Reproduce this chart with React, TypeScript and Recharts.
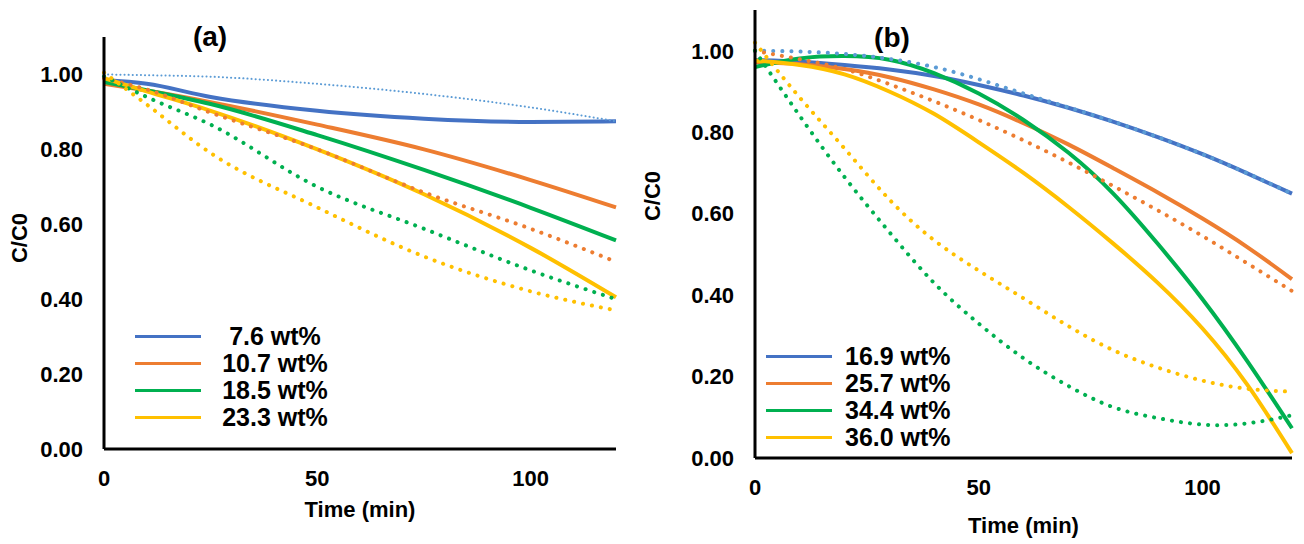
import { LineChart, Line, XAxis, YAxis, Legend } from "recharts";

const FONT = '"Liberation Sans", Arial, sans-serif';

// colours of the four loadings (solid = data, dotted = fit)
const SOLID_COLORS = ["#4472C4", "#ED7D31", "#00B050", "#FFC000"];
const DOTTED_COLORS = ["#5B9BD5", "#ED7D31", "#00B050", "#FFC000"];

const Y_TICKS = [0, 0.2, 0.4, 0.6, 0.8, 1.0];
const X_TICKS = [0, 50, 100];

// panel (a)
const NAMES_A = ["7.6 wt%", "10.7 wt%", "18.5 wt%", "23.3 wt%"];
const TIME_A = [0, 10, 25, 50, 75, 100, 120];
const A_SOLID_1 = [0.985, 0.975, 0.94, 0.903, 0.882, 0.873, 0.875];
const A_SOLID_2 = [0.975, 0.957, 0.926, 0.866, 0.8, 0.718, 0.645];
const A_SOLID_3 = [0.98, 0.958, 0.921, 0.838, 0.745, 0.644, 0.557];
const A_SOLID_4 = [0.99, 0.955, 0.903, 0.8, 0.68, 0.537, 0.405];
const A_DOT_1 = [1.0, 0.998, 0.994, 0.975, 0.948, 0.912, 0.875];
const A_DOT_2 = [0.99, 0.96, 0.898, 0.8, 0.685, 0.588, 0.5];
const A_DOT_3 = [0.995, 0.94, 0.866, 0.7, 0.588, 0.477, 0.4];
const A_DOT_4 = [1.005, 0.92, 0.79, 0.645, 0.514, 0.421, 0.37];

// panel (b)
const NAMES_B = ["16.9 wt%", "25.7 wt%", "34.4 wt%", "36.0 wt%"];
const TIME_B = [0, 10, 20, 30, 40, 50, 60, 70, 80, 90, 100, 110, 120];
const B_SOLID_1 = [0.977, 0.973, 0.965, 0.954, 0.938, 0.916, 0.89, 0.86, 0.826, 0.788, 0.746, 0.699, 0.649];
const B_SOLID_2 = [0.972, 0.967, 0.955, 0.935, 0.905, 0.868, 0.822, 0.77, 0.712, 0.652, 0.588, 0.518, 0.439];
const B_SOLID_3 = [0.96, 0.981, 0.987, 0.978, 0.945, 0.895, 0.83, 0.75, 0.65, 0.526, 0.39, 0.238, 0.073];
const B_SOLID_4 = [0.976, 0.965, 0.942, 0.9, 0.845, 0.775, 0.7, 0.617, 0.527, 0.43, 0.318, 0.18, 0.012];
const B_DOT_1 = [1.0, 0.998, 0.992, 0.98, 0.96, 0.93, 0.895, 0.861, 0.826, 0.788, 0.746, 0.699, 0.649];
const B_DOT_2 = [1.0, 0.979, 0.955, 0.918, 0.876, 0.83, 0.78, 0.726, 0.668, 0.608, 0.545, 0.478, 0.41];
const B_DOT_3 = [1.0, 0.84, 0.69, 0.555, 0.43, 0.33, 0.245, 0.177, 0.125, 0.098, 0.082, 0.085, 0.105];
const B_DOT_4 = [1.02, 0.885, 0.76, 0.635, 0.535, 0.46, 0.392, 0.324, 0.265, 0.222, 0.19, 0.17, 0.163];

const toRows = (times: number[], vals: number[]) =>
  times.map((t, i) => ({ t, v: vals[i] }));

const tickStyle = { fill: "#000", fontSize: 22, fontWeight: 700, fontFamily: FONT };
const axisStyle = { stroke: "#000", strokeWidth: 3 };

function LegendBox({ names, centered }: { names: string[]; centered: boolean }) {
  return (
    <div style={{ fontFamily: FONT, fontWeight: 700, fontSize: 25, color: "#000" }}>
      {names.map((n, i) => (
        <div key={n} style={{ display: "flex", alignItems: "center", height: 27 }}>
          <span style={{ display: "inline-block", width: 66, height: 3, background: SOLID_COLORS[i] }} />
          <span
            style={{
              marginLeft: centered ? 14 : 13,
              width: centered ? 120 : "auto",
              textAlign: centered ? "center" : "left",
              whiteSpace: "nowrap",
              lineHeight: "27px",
            }}
          >
            {n}
          </span>
        </div>
      ))}
    </div>
  );
}

type PanelProps = {
  width: number;
  top: number;
  right: number;
  yAxisWidth: number;
  xAxisHeight: number;
  times: number[];
  solid: number[][];
  dotted: number[][];
  curve: "monotone" | "natural";
  names: string[];
  centered: boolean;
  legendLeft: number;
  legendTop: number;
  yLabelX: number;
  yLabelY: number;
  xLabelBaseline: number;
  thinFirstDotted: boolean;
};

function Panel(p: PanelProps) {
  const midX = p.yAxisWidth + (p.width - p.right - p.yAxisWidth) / 2;
  return (
    <LineChart
      width={p.width}
      height={544}
      margin={{ top: p.top, right: p.right, bottom: 0, left: 0 }}
    >
      <XAxis
        dataKey="t"
        type="number"
        domain={[0, 120]}
        ticks={X_TICKS}
        height={p.xAxisHeight}
        axisLine={axisStyle}
        tickLine={false}
        tickSize={0}
        tickMargin={21}
        tick={tickStyle}
        allowDuplicatedCategory={false}
        label={() => (
          <text x={midX} y={p.xLabelBaseline} textAnchor="middle" fontFamily={FONT} fontSize={22} fontWeight={700} fill="#000">
            Time (min)
          </text>
        )}
      />
      <YAxis
        type="number"
        domain={[0, 1.1]}
        ticks={Y_TICKS}
        width={p.yAxisWidth}
        tickFormatter={(v: number) => v.toFixed(2)}
        axisLine={axisStyle}
        tickLine={false}
        tickSize={0}
        tickMargin={21}
        tick={tickStyle}
        label={() => (
          <text
            x={p.yLabelX}
            y={p.yLabelY}
            transform={`rotate(-90 ${p.yLabelX} ${p.yLabelY})`}
            textAnchor="middle"
            dominantBaseline="central"
            fontFamily={FONT}
            fontSize={22}
            fontWeight={700}
            fill="#000"
          >
            C/C0
          </text>
        )}
      />
      {p.solid.map((vals, i) => (
        <Line
          key={"s" + i}
          data={toRows(p.times, vals)}
          dataKey="v"
          type={p.curve}
          stroke={SOLID_COLORS[i]}
          strokeWidth={4}
          dot={false}
          activeDot={false}
          legendType="none"
          isAnimationActive={false}
        />
      ))}
      {p.dotted.map((vals, i) => {
        const thin = p.thinFirstDotted && i === 0;
        return (
          <Line
            key={"d" + i}
            data={toRows(p.times, vals)}
            dataKey="v"
            type={p.curve}
            stroke={DOTTED_COLORS[i]}
            strokeWidth={thin ? 2 : 4}
            strokeDasharray={thin ? "0.1 4" : "0.1 9"}
            strokeLinecap="round"
            dot={false}
            activeDot={false}
            legendType="none"
            isAnimationActive={false}
          />
        );
      })}
      <Legend
        layout="vertical"
        align="center"
        verticalAlign="middle"
        wrapperStyle={{ left: p.legendLeft, top: p.legendTop, width: "auto" }}
        content={() => <LegendBox names={p.names} centered={p.centered} />}
      />
    </LineChart>
  );
}

const titleStyle = {
  position: "absolute" as const,
  transform: "translate(-50%, -50%)",
  fontFamily: FONT,
  fontWeight: 700,
  fontSize: 28,
  lineHeight: "28px",
  color: "#000",
};

export default function App() {
  return (
    <div style={{ position: "absolute", left: 0, top: 0, width: 1304, height: 544, background: "#fff" }}>
      <div style={{ position: "absolute", left: 0, top: 0 }}>
        <Panel
          width={640}
          top={37}
          right={24}
          yAxisWidth={104}
          xAxisHeight={95}
          times={TIME_A}
          solid={[A_SOLID_1, A_SOLID_2, A_SOLID_3, A_SOLID_4]}
          dotted={[A_DOT_1, A_DOT_2, A_DOT_3, A_DOT_4]}
          curve="monotone"
          names={NAMES_A}
          centered={true}
          legendLeft={135}
          legendTop={323}
          yLabelX={19}
          yLabelY={238}
          xLabelBaseline={517}
          thinFirstDotted={true}
        />
      </div>
      <div style={{ position: "absolute", left: 640, top: 0 }}>
        <Panel
          width={664}
          top={10}
          right={12}
          yAxisWidth={115}
          xAxisHeight={86}
          times={TIME_B}
          solid={[B_SOLID_1, B_SOLID_2, B_SOLID_3, B_SOLID_4]}
          dotted={[B_DOT_1, B_DOT_2, B_DOT_3, B_DOT_4]}
          curve="natural"
          names={NAMES_B}
          centered={false}
          legendLeft={126}
          legendTop={343}
          yLabelX={12}
          yLabelY={196}
          xLabelBaseline={533}
          thinFirstDotted={false}
        />
      </div>
      <div style={{ ...titleStyle, left: 210, top: 37 }}>(a)</div>
      <div style={{ ...titleStyle, left: 892, top: 38 }}>(b)</div>
    </div>
  );
}
